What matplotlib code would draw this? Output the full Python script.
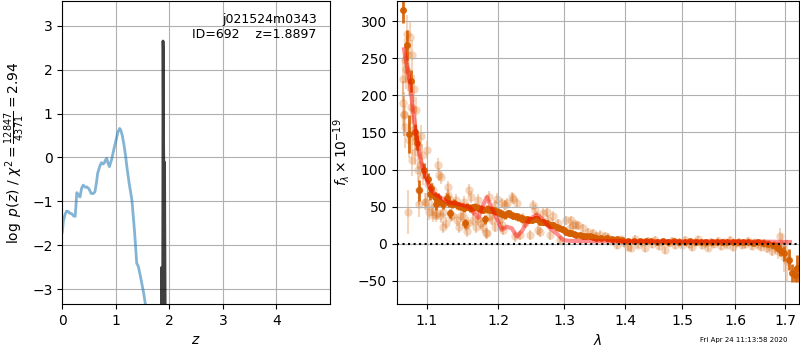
import numpy as np
import matplotlib
matplotlib.use('Agg')
import matplotlib.pyplot as plt
from matplotlib.ticker import FixedLocator, NullLocator, FixedFormatter

# ---- p(z) panel ----
z_coarse = [0.0, 0.02, 0.05, 0.08, 0.11, 0.14, 0.175, 0.21, 0.24, 0.255, 0.27, 0.30, 0.33,
            0.36, 0.39, 0.43, 0.46, 0.50, 0.54, 0.58, 0.61, 0.64, 0.66, 0.70, 0.73, 0.76,
            0.78, 0.81, 0.83, 0.855, 0.88, 0.92, 0.96, 1.00, 1.04, 1.07, 1.09, 1.12, 1.15,
            1.18, 1.21, 1.25, 1.30, 1.35, 1.39, 1.42, 1.46, 1.49, 1.52, 1.55, 1.57]
lnp_coarse = [-1.7, -1.45, -1.3, -1.22, -1.23, -1.27, -1.28, -1.33, -1.34, -1.1, -0.8, -0.85, -0.9,
              -0.7, -0.63, -0.68, -0.67, -0.72, -0.82, -0.82, -0.78, -0.55, -0.36, -0.2, -0.12, -0.15,
              -0.13, -0.05, -0.02, -0.14, -0.21, -0.05, 0.17, 0.38, 0.58, 0.66, 0.63, 0.5, 0.3,
              0.05, -0.25, -0.6, -0.97, -1.7, -2.41, -2.48, -2.71, -2.9, -3.09, -3.33, -3.5]

z_fine = [1.852, 1.856, 1.858, 1.862, 1.874, 1.878, 1.881, 1.884, 1.888, 1.896, 1.904,
          1.910, 1.914, 1.918, 1.922, 1.930]
lnp_fine = [-3.5, -2.5, -2.6, -3.5, -3.5, -1.0, 2.65, 2.5, 1.0, -0.3, -0.1,
            -0.12, -1.5, -2.6, -3.5, -3.5]

chi2_num, chi2_den = 12847, 4371
root_name = 'j021524m0343'
obj_id = 692
z_best = 1.8897

# ---- spectrum panel ----
# binned spectrum (wavelength micron, flux 1e-19, error)
dark_wave = [1.0692, 1.0736, 1.0770, 1.0793, 1.0845, 1.0875, 1.0902, 1.0957, 1.1021, 1.1044,
             1.1058, 1.1112, 1.1125, 1.1150, 1.1179, 1.1224, 1.1271, 1.1300, 1.1316, 1.1339,
             1.1370, 1.1408, 1.1440, 1.1478, 1.1510, 1.1523, 1.1548, 1.1594, 1.1630, 1.1670,
             1.1712, 1.1750, 1.1783, 1.1807, 1.1830, 1.1876, 1.1920, 1.1951, 1.1990, 1.2024,
             1.2060, 1.2098, 1.2140, 1.2170, 1.2222, 1.2260, 1.2296, 1.2340, 1.2371, 1.2422,
             1.2460, 1.2500, 1.2540, 1.2572, 1.2623, 1.2670, 1.2726, 1.2780, 1.2828, 1.2880,
             1.2920, 1.2957, 1.3000, 1.3034, 1.3080, 1.3113, 1.3160, 1.3193, 1.3250, 1.3299,
             1.3350, 1.3408, 1.3460, 1.3518, 1.3600, 1.3686, 1.3770, 1.3856, 1.3950, 1.405,
             1.415, 1.425, 1.435, 1.445, 1.455, 1.465, 1.475, 1.485, 1.495, 1.505,
             1.515, 1.525, 1.535, 1.545, 1.555, 1.565, 1.575, 1.585, 1.595, 1.605,
             1.615, 1.625, 1.635, 1.645, 1.655, 1.665, 1.675, 1.6828, 1.6900, 1.6971,
             1.7074, 1.7145, 1.7214, 1.7249]
dark_flux = [315, 268, 148, 219, 150, 136, 72, 99, 88, 67,
             75, 63, 54, 62, 57, 53, 62, 55, 41, 53,
             55, 52, 51, 50, 48, 28, 50, 48, 49, 50,
             48, 47, 46, 33, 47, 46, 45, 44, 43, 42,
             40, 39, 41, 40, 38, 37, 36, 35, 34, 33,
             32, 32, 33, 33, 30, 29, 28, 26, 25, 23,
             22, 20, 18, 16, 15, 14, 13, 12, 12, 11,
             10.5, 10, 9, 8.5, 8, 7.5, 6.5, 6, 5, 4,
             4.5, 3.5, 4, 3.5, 3, 3.5, 3, 3.5, 3, 3,
             3.5, 3, 3, 2.5, 3, 2.5, 2, 2.5, 2, 2,
             2.5, 2, 1.5, 2, 1, 0, -1, -3.6, -8, -12.5,
             -21.5, -39, -41.6, -33]
dark_err = [18, 20, 26, 15, 12, 10, 14, 10, 8, 8,
            7, 7, 8, 6, 6, 6, 6, 5, 6, 5,
            5, 5, 5, 5, 5, 6, 5, 5, 5, 5,
            5, 5, 5, 6, 5, 5, 5, 5, 5, 5,
            5, 5, 5, 5, 5, 5, 5, 5, 5, 5,
            4, 4, 4, 4, 4, 4, 4, 4, 4, 4,
            4, 4, 4, 4, 3, 3, 3, 3, 3, 3,
            3, 3, 3, 3, 3, 3, 3, 3, 2, 2,
            2, 2, 2, 2, 2, 2, 2, 2, 2, 2,
            2, 2, 2, 2, 2, 2, 2, 2, 2, 2,
            2, 2, 2, 2, 3, 3, 4, 6, 8, 10,
            14, 12, 10, 18]

# individual beam pixels
light_wave = [1.0684, 1.0692, 1.0701, 1.0705, 1.0710, 1.0714, 1.0727, 1.0736, 1.0744, 1.0750,
              1.0757, 1.0762, 1.0770, 1.0779, 1.0792, 1.0801, 1.0809, 1.0814, 1.0822, 1.0835,
              1.0845, 1.0857, 1.0858, 1.0880, 1.0888, 1.0895, 1.0902, 1.0911, 1.0924, 1.0933,
              1.0947, 1.0977, 1.0990, 1.1000, 1.1013, 1.1034, 1.1064, 1.1081, 1.1089, 1.1125,
              1.1134, 1.1148, 1.1170, 1.1190, 1.1195, 1.1213, 1.1224, 1.1257, 1.1284, 1.1293,
              1.1305, 1.1325, 1.1339, 1.1393, 1.1408, 1.1440, 1.1464, 1.1500, 1.1513, 1.1536,
              1.1558, 1.1571, 1.1584, 1.1608, 1.1629, 1.1641, 1.1676, 1.1702, 1.1712, 1.1745,
              1.1783, 1.1815, 1.1833, 1.1862, 1.1876, 1.1910, 1.1951, 1.1957, 1.1977, 1.2028,
              1.2049, 1.2052, 1.2073, 1.2098, 1.2123, 1.2197, 1.2222, 1.2247, 1.2272, 1.2320,
              1.2371, 1.2397, 1.2472, 1.2521, 1.2547, 1.2572, 1.2597, 1.2623, 1.2674, 1.2726,
              1.2751, 1.2778, 1.2828, 1.2906, 1.2932, 1.3034, 1.3092, 1.3113, 1.3139, 1.3193,
              1.3219, 1.3299, 1.3387, 1.3466, 1.3518, 1.3573, 1.3660, 1.3712, 1.380, 1.386,
              1.392, 1.398, 1.404, 1.410, 1.416, 1.422, 1.428, 1.434, 1.440, 1.446,
              1.452, 1.458, 1.464, 1.470, 1.476, 1.482, 1.488, 1.494, 1.500, 1.506,
              1.512, 1.518, 1.524, 1.530, 1.536, 1.542, 1.548, 1.554, 1.560, 1.566,
              1.572, 1.578, 1.584, 1.590, 1.596, 1.602, 1.608, 1.614, 1.620, 1.626,
              1.632, 1.638, 1.644, 1.650, 1.656, 1.662, 1.668, 1.674, 1.680, 1.686,
              1.690, 1.694, 1.698, 1.7036]
light_flux = [189, 222, 173, 175, 157, 247, 236, 283, 254, 43,
              231, 222, 140, 278, 184, 254, 113, 153, 182, 209,
              124, 180, 144, 99, 131, 72, 54, 106, 145, 119,
              93, 57, 57, 126, 81, 43, 48, 72, 39, 39,
              41, 106, 93, 37, 90, 23, 43, 28, 77, 66,
              61, 37, 39, 59, 32, 23, 37, 37, 57, 25,
              17, 28, 72, 63, 32, 46, 23, 59, 34, 28,
              23, 14, 14, 63, 37, 32, 52, 23, 61, 34,
              55, 26, 19, 52, 55, 63, 61, 10, 55, 12,
              34, 28, 12, 52, 46, 37, 19, 16, 41, 43,
              32, 12, 37, 28, 5, 32, 21, 32, 26, 26,
              25, 21, 16, 14, 10, 12, 10, 8, 4, -2,
              6, 1, -4, -6, 7, -1, 2, -6, 4, 0,
              5, -3, 2, -8, 1, 4, -2, 3, -1, 5,
              0, -4, 2, 6, -2, 1, -5, 3, 0, 4,
              -3, 2, -1, 5, -4, 1, 3, -2, 0, 4,
              -3, 2, -1, -4, 1, -6, -2, -9, -4, -10,
              10, -1, -18, -23]
light_err = [30, 30, 28, 30, 28, 30, 28, 25, 25, 30,
             25, 22, 25, 22, 22, 20, 22, 20, 20, 18,
             18, 18, 18, 16, 16, 20, 18, 15, 15, 15,
             14, 12, 12, 12, 12, 11, 10, 10, 10, 9,
             9, 9, 9, 9, 9, 8, 8, 8, 8, 8,
             8, 8, 8, 8, 8, 8, 8, 8, 8, 8,
             8, 8, 8, 8, 8, 8, 8, 8, 8, 8,
             8, 8, 8, 8, 7, 7, 7, 7, 7, 7,
             7, 7, 7, 7, 7, 7, 7, 7, 7, 7,
             7, 7, 7, 7, 7, 7, 7, 7, 7, 7,
             7, 7, 7, 6, 6, 6, 6, 6, 6, 6,
             6, 6, 6, 6, 6, 6, 6, 6, 5, 5,
             5, 5, 5, 5, 5, 5, 5, 5, 5, 5,
             5, 5, 5, 5, 5, 5, 5, 5, 5, 5,
             5, 5, 5, 5, 5, 5, 5, 5, 5, 5,
             5, 5, 5, 5, 5, 5, 5, 5, 5, 5,
             5, 5, 5, 6, 6, 6, 7, 8, 8, 10,
             12, 14, 20, 28]

model_wave = [1.0700, 1.0714, 1.0779, 1.0818, 1.0858, 1.0911, 1.0957, 1.1000, 1.1044, 1.1100,
              1.1179, 1.1288, 1.1408, 1.1500, 1.1594, 1.1665, 1.1712, 1.1760, 1.1833, 1.1904,
              1.1977, 1.2049, 1.2123, 1.2197, 1.2272, 1.2347, 1.2410, 1.2472, 1.2572, 1.2674,
              1.2778, 1.2880, 1.2986, 1.3100, 1.3500, 1.4000, 1.5000, 1.6000, 1.6500, 1.7100]
model_flux = [262, 253, 216, 180, 149, 117, 99, 86, 75, 68,
              63, 56, 54, 52, 49, 40, 35, 48, 63, 48,
              34, 19, 23, 21, 10, 17, 27, 34, 39, 32,
              21, 14, 5, 4, 3.5, 3.5, 3.2, 3.0, 3.0, 2.5]

zmin, zmax = 0.0, 5.0
wlim = (1.0606, 1.729)
flim = (-81, 327)
wticks = [1.1, 1.2, 1.3, 1.4, 1.5, 1.6, 1.7]
timestamp = 'Fri Apr 24 11:13:58 2020'

grism_color = (0.8352941176470589, 0.3686274509803922, 0.0)

fig = plt.figure(figsize=(8, 3.5), dpi=100)
ax1 = fig.add_axes([0.0779, 0.1314, 0.3346, 0.8657])
ax2 = fig.add_axes([0.4959, 0.1314, 0.5029, 0.8657])

ax1.plot(z_coarse, lnp_coarse, color='tab:blue', alpha=0.55, lw=2)
ax1.plot(z_fine, lnp_fine, color='k', alpha=0.75, lw=2)
ax1.set_xlim(zmin, zmax)
ax1.set_ylim(-3.335, 3.56)
ax1.set_xticks([0, 1, 2, 3, 4])
ax1.set_yticks([-3, -2, -1, 0, 1, 2, 3])
ax1.grid()
ax1.set_xlabel(r'$z$')
ax1.set_ylabel(r'$\log\ p(z)$' + ' / ' +
               r'$\chi^2=\frac{' + str(chi2_num) + '}{' + str(chi2_den) + '}=' +
               '{0:.2f}'.format(chi2_num / chi2_den) + '$')
ax1.text(0.95, 0.96, '{0}\nID={1:<5d}  z={2:.4f}'.format(root_name, obj_id, z_best),
         ha='right', va='top', transform=ax1.transAxes, fontsize=9)

ax2.errorbar(light_wave, light_flux, light_err, color=grism_color, alpha=0.25,
             marker='o', ms=6, mew=0, linestyle='None', lw=1.5, zorder=1)
ax2.errorbar(dark_wave, dark_flux, dark_err, color=grism_color, alpha=0.9,
             marker='o', ms=4, linestyle='None', lw=2, zorder=2)
ax2.plot(model_wave, model_flux, color='r', alpha=0.45, lw=3, zorder=3)
ax2.plot([wlim[0], max(dark_wave)], [0, 0], color='k', linestyle=':', lw=1.5, zorder=4)

ax2.set_xscale('log')
ax2.set_xlim(*wlim)
ax2.set_ylim(*flim)
ax2.xaxis.set_major_locator(FixedLocator(wticks))
ax2.xaxis.set_major_formatter(FixedFormatter(['{0:.1f}'.format(w) for w in wticks]))
ax2.xaxis.set_minor_locator(NullLocator())
ax2.set_yticks([-50, 0, 50, 100, 150, 200, 250, 300])
ax2.grid()
ax2.set_xlabel(r'$\lambda$')
ax2.set_ylabel(r'$f_\lambda\times10^{-19}$')

fig.text(0.985, 0.021, timestamp, ha='right', va='bottom', fontsize=5)

fig.savefig('out.png', dpi=100)
